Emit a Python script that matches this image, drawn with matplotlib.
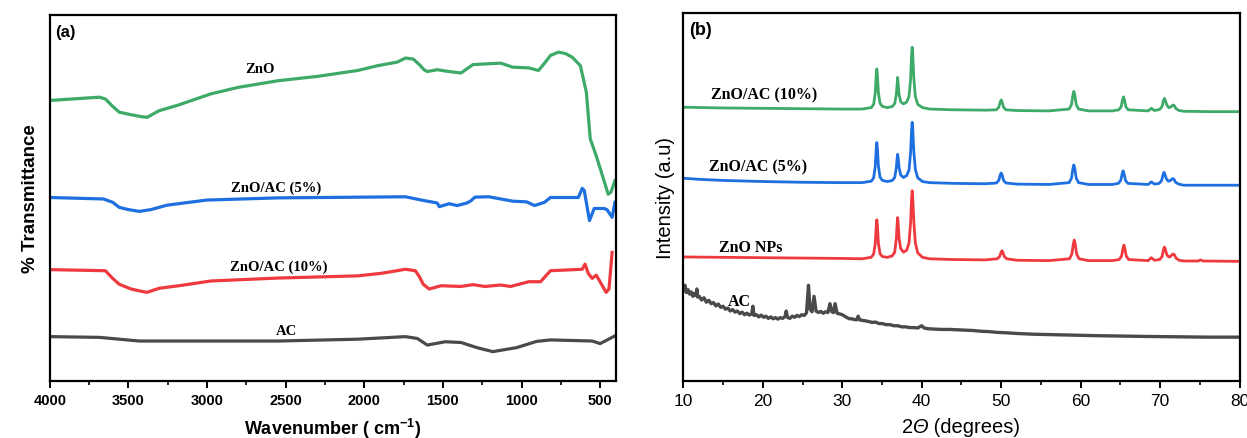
import matplotlib
matplotlib.use("Agg")
import matplotlib.pyplot as plt
import matplotlib.transforms as mtransforms
from matplotlib.ticker import MultipleLocator

# ── FTIR data (panel a): wavenumber (cm-1) and relative transmittance ─────────
wn_zno = [4000, 3684, 3646, 3600, 3558, 3482, 3420, 3381, 3305, 3179, 2976, 2800,
          2547, 2294, 2041, 1915, 1789, 1738, 1688, 1650, 1620, 1599, 1536, 1460,
          1385, 1309, 1132, 1056, 955, 892, 850, 816, 765, 720, 677, 626, 588,
          563, 525, 449, 432, 406]
tr_zno = [76.6, 77.5, 77.0, 75.0, 73.4, 72.7, 72.2, 72.0, 73.8, 75.4, 78.4, 80.2,
          82.0, 83.2, 84.8, 86.1, 87.1, 88.2, 87.9, 86.4, 85.0, 84.5, 85.0, 84.5,
          84.1, 86.4, 86.8, 85.7, 85.5, 84.8, 87.0, 88.9, 89.8, 89.4, 88.4, 86.1, 78.9,
          66.1, 61.5, 51.0, 51.5, 54.7]

wn_5 = [4000, 3659, 3600, 3558, 3500, 3431, 3356, 3255, 3002, 2547, 1738, 1637,
        1536, 1523, 1460, 1410, 1347, 1322, 1296, 1208, 1056, 967, 917, 854, 816,
        639, 614, 601, 568, 538, 475, 457, 424, 406]
tr_5 = [50.1, 49.7, 48.8, 47.4, 46.8, 46.3, 46.8, 48.0, 49.4, 50.0, 50.3, 49.4,
        48.6, 47.6, 48.4, 47.9, 48.6, 49.2, 50.2, 50.3, 49.1, 48.9, 47.9, 48.8, 50.1,
        50.1, 52.6, 52.0, 43.8, 47.1, 47.1, 46.8, 44.7, 48.8]

wn_10 = [4000, 3646, 3600, 3558, 3482, 3420, 3381, 3305, 3179, 2976, 2547, 2041,
         1890, 1738, 1675, 1650, 1625, 1587, 1511, 1385, 1309, 1233, 1132, 1069,
         955, 879, 816, 614, 596, 576, 551, 525, 462, 444, 424]
tr_10 = [30.4, 30.1, 28.0, 26.4, 25.1, 24.5, 24.2, 25.3, 26.0, 27.3, 28.1, 28.7,
         29.4, 30.5, 30.1, 28.5, 26.4, 25.1, 26.0, 25.8, 26.3, 25.8, 26.2, 25.8,
         27.1, 27.1, 30.1, 30.5, 31.9, 29.4, 28.0, 28.9, 24.2, 25.1, 35.1]

wn_ac = [4000, 3684, 3431, 3052, 2547, 2041, 1738, 1663, 1599, 1486, 1385, 1284,
         1183, 1031, 904, 816, 551, 500, 406]
tr_ac = [12.1, 11.9, 10.9, 10.9, 10.9, 11.4, 12.1, 11.6, 9.8, 10.7, 10.5, 9.1,
         8.0, 9.1, 10.8, 11.2, 10.9, 10.2, 12.3]

# ── XRD data (panel b): 2theta (deg) and offset intensity ─────────────────────
tt_10 = [10, 15, 20, 25, 30, 32.5, 33.65, 33.95, 34.15, 34.27, 34.35, 34.43, 34.55,
         34.75, 35.05, 35.7, 36.3, 36.6, 36.8, 36.9, 36.97, 37.05, 37.15, 37.35,
         37.7, 38.1, 38.4, 38.6, 38.72, 38.8, 38.88, 39.0, 39.2, 39.5, 40.1, 41,
         44, 48, 49.4, 49.7, 49.88, 50.0, 50.12, 50.3, 50.6, 52, 56, 58.55, 58.85,
         59.03, 59.15, 59.27, 59.45, 59.75, 61, 64, 64.8, 65.1, 65.28, 65.4, 65.52,
         65.7, 66.0, 68.5, 68.9, 69.3, 69.95, 70.25, 70.43, 70.55, 70.67, 70.85,
         71.1, 71.3, 71.5, 71.65, 71.8, 72.0, 72.4, 73, 76, 80]
in_10 = [74.4, 74.2, 74.1, 74.0, 73.9, 73.9, 74.3, 75.2, 78.2, 83.0, 84.8, 83.0, 78.4,
         75.5, 74.6, 74.3, 74.6, 75.4, 77.8, 80.5, 82.5, 80.5, 77.9, 75.9,
         75.3, 75.8, 77.3, 82.0, 88.3, 90.7, 88.5, 82.5, 77.3, 75.2, 74.3, 73.9,
         73.7, 73.6, 73.7, 74.4, 75.8, 76.4, 75.8, 74.4, 73.7, 73.5, 73.4, 73.9, 75.1,
         77.7, 78.7, 77.7, 75.1, 73.9, 73.4, 73.4, 73.7, 74.5, 76.4, 77.2, 76.4,
         74.5, 73.7, 73.4, 74.1, 73.5, 73.8, 74.6, 76.2, 76.8, 76.2, 75.0,
         74.3, 74.4, 74.8, 75.0, 74.8, 74.0, 73.5, 73.3, 73.2, 73.2]

tt_5 = [10, 12, 15, 20, 25, 30, 32.5, 33.65, 33.95, 34.15, 34.27, 34.35, 34.43,
        34.55, 34.75, 35.05, 35.7, 36.3, 36.6, 36.8, 36.9, 36.97, 37.05, 37.15,
        37.35, 37.7, 38.1, 38.4, 38.6, 38.72, 38.8, 38.88, 39.0, 39.2, 39.5, 40.1,
        41, 44, 48, 49.4, 49.7, 49.88, 50.0, 50.12, 50.3, 50.6, 52, 56, 58.55,
        58.85, 59.03, 59.15, 59.27, 59.45, 59.75, 61, 64, 64.75, 65.05, 65.23,
        65.35, 65.47, 65.65, 65.95, 68.5, 68.9, 69.3, 69.9, 70.2, 70.38, 70.5,
        70.62, 70.8, 71.05, 71.25, 71.45, 71.6, 71.75, 71.95, 72.35, 73, 76, 80]
in_5 = [55.1, 54.8, 54.5, 54.2, 54.0, 53.9, 53.9, 54.3, 55.2, 58.2, 63.0, 64.8, 63.0,
        58.4, 55.4, 54.5, 54.2, 54.5, 55.3, 57.8, 60.4, 61.6, 60.4, 58.0,
        56.0, 55.3, 55.8, 57.3, 62.0, 68.0, 70.3, 68.2, 62.5, 57.5, 55.2, 54.2,
        53.9, 53.7, 53.6, 53.8, 54.5, 56.0, 56.5, 56.0, 54.5, 53.8, 53.5, 53.4, 53.9,
        55.1, 57.7, 58.7, 57.7, 55.1, 53.9, 53.4, 53.4, 53.7, 54.5, 56.3,
        57.1, 56.3, 54.5, 53.7, 53.4, 54.1, 53.5, 53.7, 54.5, 56.1, 56.7,
        56.1, 54.9, 54.3, 54.4, 54.8, 55.0, 54.8, 54.0, 53.5, 53.2, 53.2, 53.2]

tt_np = [10, 15, 20, 25, 30, 32.5, 33.65, 33.95, 34.15, 34.27, 34.35, 34.43, 34.55,
         34.75, 35.05, 35.7, 36.3, 36.6, 36.8, 36.9, 36.97, 37.05, 37.15, 37.35,
         37.7, 38.1, 38.4, 38.6, 38.72, 38.8, 38.88, 39.0, 39.2, 39.5, 40.1, 41,
         44, 48, 49.5, 49.8, 49.98, 50.1, 50.22, 50.4, 50.7, 52, 56, 58.6, 58.9,
         59.08, 59.2, 59.32, 59.5, 59.8, 61, 64, 64.85, 65.15, 65.33, 65.45, 65.57,
         65.75, 66.05, 68.5, 68.9, 69.3, 69.95, 70.25, 70.43, 70.55, 70.67, 70.85,
         71.1, 71.3, 71.5, 71.65, 71.8, 72.0, 72.4, 73, 74.8, 75.1, 75.4, 80]
in_np = [33.7, 33.6, 33.5, 33.4, 33.3, 33.2, 33.6, 34.5, 37.2, 42.0, 43.8, 42.0, 37.4,
         34.6, 33.8, 33.6, 34.0, 35.0, 38.5, 42.5, 44.4, 42.5, 38.8, 36.0,
         35.0, 35.5, 37.5, 43.0, 49.3, 51.7, 49.5, 43.5, 37.5, 34.8, 33.6, 33.2,
         33.0, 32.9, 33.2, 33.8, 34.9, 35.4, 34.9, 33.8, 33.2, 32.8, 32.7, 33.2, 34.5,
         37.2, 38.3, 37.2, 34.5, 33.2, 32.7, 32.7, 33.0, 33.9, 36.0, 36.9, 36.0,
         33.9, 33.0, 32.7, 33.5, 32.8, 33.0, 33.8, 35.7, 36.4, 35.7, 34.3,
         33.7, 33.8, 34.3, 34.5, 34.3, 33.4, 32.8, 32.6, 32.6, 32.9, 32.6, 32.5]

tt_ac = [10.0, 10.2, 10.4, 10.6, 10.8, 11.0, 11.2, 11.4, 11.6, 11.7, 11.8, 12.0,
         12.3, 12.6, 12.9, 13.2, 13.5, 13.8, 14.1, 14.4, 14.7, 15.0, 15.3, 15.6,
         15.9, 16.2, 16.5, 16.8, 17.1, 17.4, 17.7, 18.0, 18.3, 18.6, 18.75, 18.9,
         19.2, 19.5, 19.8, 20.1, 20.4, 20.7, 21.0, 21.3, 21.6, 21.9, 22.2, 22.5,
         22.8, 22.95, 23.1, 23.4, 23.7, 24.0, 24.3, 24.6, 24.9, 25.2, 25.5, 25.75,
         25.95, 26.2, 26.45, 26.7, 27.0, 27.3, 27.6, 27.9, 28.2, 28.45, 28.7, 28.9,
         29.1, 29.35, 29.7, 30.0, 30.3, 30.6, 30.9, 31.2, 31.5, 31.8, 32.0, 32.2,
         32.4, 32.7, 33.0, 33.4, 33.8, 34.2, 34.6, 35.0, 35.5, 36.0, 36.5, 37.0,
         37.5, 38.0, 38.5, 39.0, 39.5, 40.0, 40.3, 40.7, 41.5, 42.5, 43.5, 44.5,
         45.5, 46.5, 47.5, 48.5, 49.5, 50.5, 52, 54, 56, 58, 60, 62, 65, 68, 72, 76, 80]
in_ac = [24.5, 26.0, 24.0, 24.8, 23.6, 24.2, 23.0, 23.8, 23.2, 25.0, 22.8, 23.0,
         22.0, 22.6, 21.4, 21.9, 21.0, 21.3, 20.4, 20.9, 20.0, 20.3, 19.5, 19.8,
         19.0, 19.4, 18.7, 19.0, 18.3, 18.7, 18.0, 18.4, 17.9, 18.2, 20.3, 17.8,
         18.0, 17.4, 17.9, 17.3, 17.6, 17.0, 17.4, 16.9, 17.2, 16.8, 17.2, 17.0,
         17.5, 19.0, 17.3, 17.0, 17.6, 17.3, 17.8, 17.5, 18.0, 17.8, 18.5, 26.0,
         19.5, 18.8, 23.0, 19.0, 18.6, 18.9, 18.4, 18.8, 18.6, 21.0, 18.8, 18.6,
         21.0, 18.4, 18.2, 18.0, 17.6, 17.2, 16.9, 16.9, 16.7, 16.6, 17.6, 16.6,
         16.5, 16.4, 16.3, 16.1, 15.9, 16.0, 15.6, 15.6, 15.3, 15.3, 15.0, 15.0,
         14.7, 14.7, 14.5, 14.5, 14.4, 15.0, 14.4, 14.2, 14.1, 14.0, 14.0, 13.9,
         13.8, 13.7, 13.5, 13.4, 13.2, 13.1, 12.9, 12.7, 12.6, 12.5, 12.4, 12.3, 12.2, 12.1, 12.0, 11.9, 11.9]

# ── Style ─────────────────────────────────────────────────────────────────────
GREEN = "#3daa68"
BLUE = "#1e6fe0"
RED = "#ee3a3f"
GRAY = "#4a4a4a"
SERIF = "Liberation Serif"

plt.rcParams.update({
    "font.family": "Liberation Sans",
    "mathtext.fontset": "custom",
    "mathtext.rm": "Liberation Sans",
    "mathtext.it": "Liberation Sans:italic",
    "mathtext.bf": "Liberation Sans:bold",
    "axes.linewidth": 1.6,
    "xtick.direction": "out",
    "xtick.major.width": 1.4,
    "xtick.minor.width": 1.2,
    "xtick.major.size": 5,
    "xtick.minor.size": 3,
})

fig = plt.figure(figsize=(12.47, 4.39), dpi=100)
ax1 = fig.add_axes([0.0399, 0.130, 0.454, 0.834])
ax2 = fig.add_axes([0.548, 0.130, 0.446, 0.838])

# ── Panel (a): FTIR ───────────────────────────────────────────────────────────
for wn, tr, c in [(wn_zno, tr_zno, GREEN), (wn_5, tr_5, BLUE),
                  (wn_10, tr_10, RED), (wn_ac, tr_ac, GRAY)]:
    ax1.plot(wn, tr, color=c, lw=2.3, solid_joinstyle="round")

ax1.set_xlim(4000, 400)
ax1.set_ylim(0, 100)
ax1.xaxis.set_major_locator(MultipleLocator(500))
ax1.xaxis.set_minor_locator(MultipleLocator(250))
ax1.set_yticks([])
ax1.tick_params(axis="x", labelsize=10.5, pad=4)
for lab in ax1.get_xticklabels():
    lab.set_fontweight("bold")
ax1.set_xlabel("Wavenumber ( cm$^{\\mathbf{-1}}$)", fontsize=13, fontweight="bold", labelpad=6)
ax1.set_ylabel("% Transmittance", fontsize=13.5, fontweight="bold", labelpad=8)
ax1.text(0.010, 0.955, "(a)", transform=ax1.transAxes, fontsize=12,
         fontweight="bold", va="center", ha="left")

for txt, x, y in [("ZnO", 2661, 85.2), ("ZnO/AC (5%)", 2560, 52.9),
                  ("ZnO/AC (10%)", 2547, 31.2), ("AC", 2496, 13.9)]:
    ax1.text(x, y, txt, family=SERIF, fontweight="bold", fontsize=10.5,
             ha="center", va="center")

# ── Panel (b): XRD ────────────────────────────────────────────────────────────
for tt, it, c, lw in [(tt_10, in_10, GREEN, 2.0), (tt_5, in_5, BLUE, 2.0),
                      (tt_np, in_np, RED, 2.0), (tt_ac, in_ac, GRAY, 2.4)]:
    ax2.plot(tt, it, color=c, lw=lw, solid_joinstyle="round")

ax2.set_xlim(10, 80)
ax2.set_ylim(0, 100)
ax2.xaxis.set_major_locator(MultipleLocator(10))
ax2.xaxis.set_minor_locator(MultipleLocator(5))
ax2.set_yticks([])
ax2.tick_params(axis="x", labelsize=12.5, pad=4)
fig.canvas.draw()
last = ax2.get_xticklabels()[-1]
last.set_transform(last.get_transform() +
                   mtransforms.ScaledTranslation(-5 / 100, 0, fig.dpi_scale_trans))
ax2.set_ylabel("Intensity (a.u)", fontsize=14.5, labelpad=6)
ax2.text(0.010, 0.955, "(b)", transform=ax2.transAxes, fontsize=13,
         fontweight="bold", va="center", ha="left")

# x label "2Θ (degrees)" with an italic Θ, built from three pieces
renderer = fig.canvas.get_renderer()
label_y = 0.027
parts = [("2", "normal"), ("Θ", "italic"), (" (degrees)", "normal")]
pieces = [fig.text(0, label_y, s, fontsize=14.5, style=st, va="center", ha="left")
          for s, st in parts]
widths = [p.get_window_extent(renderer).width / fig.bbox.width for p in pieces]
x0 = 961 / 1247 - sum(widths) / 2
for p, w in zip(pieces, widths):
    p.set_x(x0)
    x0 += w

for txt, x, y in [("ZnO/AC (10%)", 20.2, 78.0), ("ZnO/AC (5%)", 19.4, 58.2),
                  ("ZnO NPs", 18.5, 36.5), ("AC", 17.0, 21.8)]:
    ax2.text(x, y, txt, family=SERIF, fontweight="bold", fontsize=11.5,
             ha="center", va="center")

fig.savefig("out.png", dpi=100)
